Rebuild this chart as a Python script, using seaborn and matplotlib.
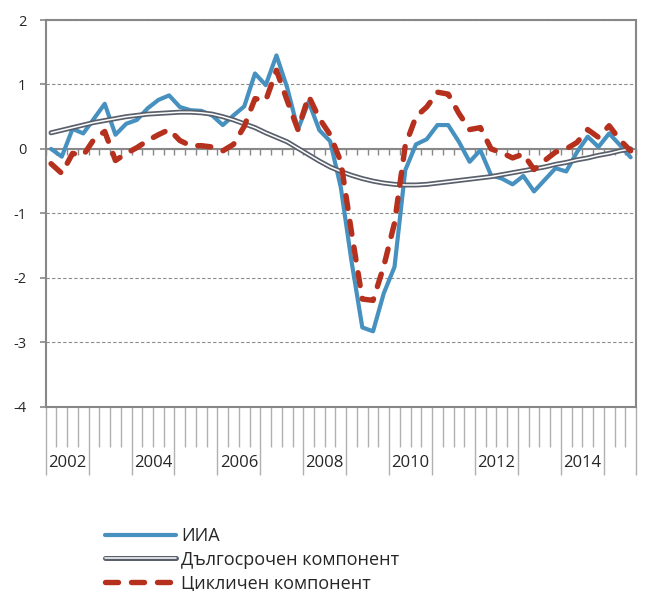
import numpy as np
import pandas as pd
import matplotlib
matplotlib.use('Agg')
import matplotlib.pyplot as plt
import matplotlib.patheffects as pe
import seaborn as sns

# тримесечни данни 2002Q1 - 2015Q3
years = list(range(2002, 2016))
quarters = [f'{y}Q{q}' for y in years for q in range(1, 5)][:55]

iia = [0.00, -0.12, 0.31, 0.24, 0.47, 0.70, 0.22, 0.39, 0.45, 0.63,
       0.76, 0.83, 0.65, 0.60, 0.59, 0.52, 0.37, 0.52, 0.66, 1.17,
       0.99, 1.45, 0.95, 0.30, 0.73, 0.29, 0.12, -0.60, -1.75, -2.77,
       -2.83, -2.24, -1.83, -0.33, 0.07, 0.15, 0.37, 0.37, 0.11, -0.20,
       -0.02, -0.41, -0.46, -0.55, -0.42, -0.66, -0.48, -0.30, -0.35, -0.05,
       0.19, 0.03, 0.24, 0.06, -0.13]

trend = [0.25, 0.29, 0.33, 0.37, 0.41, 0.44, 0.47, 0.50, 0.52, 0.54,
         0.55, 0.56, 0.57, 0.57, 0.56, 0.54, 0.50, 0.45, 0.39, 0.33,
         0.25, 0.18, 0.11, 0.01, -0.09, -0.19, -0.28, -0.35, -0.41, -0.46,
         -0.50, -0.53, -0.55, -0.56, -0.56, -0.55, -0.53, -0.51, -0.49, -0.47,
         -0.45, -0.43, -0.40, -0.37, -0.34, -0.31, -0.28, -0.24, -0.21, -0.17,
         -0.14, -0.10, -0.07, -0.03, 0.00]

cycle = [-0.23, -0.38, -0.07, -0.10, 0.15, 0.27, -0.18, -0.07, 0.02, 0.13,
         0.22, 0.30, 0.13, 0.05, 0.05, 0.03, -0.03, 0.07, 0.35, 0.78,
         0.75, 1.22, 0.75, 0.30, 0.82, 0.47, 0.22, -0.20, -1.30, -2.33,
         -2.35, -1.82, -1.15, 0.05, 0.50, 0.65, 0.88, 0.85, 0.55, 0.30,
         0.33, 0.00, -0.06, -0.14, -0.08, -0.32, -0.18, -0.05, 0.00, 0.10,
         0.30, 0.18, 0.36, 0.14, -0.03]

names = ['ИИА', 'Дългосрочен компонент', 'Цикличен компонент']

df = pd.DataFrame({'quarter': quarters, names[0]: iia, names[1]: trend, names[2]: cycle})
df['pos'] = np.arange(len(df))
n = len(df)

sns.set_style('white')
plt.rcParams['font.family'] = ['Open Sans', 'DejaVu Sans']
plt.rcParams['axes.unicode_minus'] = False

grey = '#878787'
fig = plt.figure(figsize=(6.45, 5.91), dpi=100)
ax = fig.add_axes([45.7 / 645, 1 - 406.7 / 591, (636 - 45.7) / 645, (406.7 - 20) / 591])

sns.lineplot(data=df, x='pos', y=names[0], ax=ax, color='#4691bf', lw=3.0,
             label=names[0], zorder=3)
sns.lineplot(data=df, x='pos', y=names[1], ax=ax, color='white', lw=1.1,
             label=names[1], zorder=4,
             path_effects=[pe.Stroke(linewidth=3.6, foreground='#59606c'), pe.Normal()])
sns.lineplot(data=df, x='pos', y=names[2], ax=ax, color='#b6301e', lw=3.9,
             linestyle=(0, (2.4, 2.4)), dash_capstyle='round',
             label=names[2], zorder=5)
if ax.get_legend():
    ax.get_legend().remove()

ax.set_xlim(-0.5, n - 0.5)
ax.set_ylim(-4, 2)
ax.set_xlabel('')
ax.set_ylabel('')

# рамка
for s in ax.spines.values():
    s.set_color(grey)
    s.set_linewidth(1.5)

# хоризонтални линии
ax.set_yticks(range(-4, 3))
ax.yaxis.grid(True, linestyle=(0, (3, 2)), color='#8c8c8c', linewidth=0.8)
ax.tick_params(axis='y', which='major', length=4, width=1.2, color=grey,
               labelsize=10.5, pad=10, left=True)

# категорийна ос отдолу
bounds = np.arange(-0.5, n, 1.0)
year_bounds = list(np.arange(-0.5, n, 4.0)) + [n - 0.5]
ax.set_xticks(year_bounds)
ax.set_xticks(bounds, minor=True)
ax.tick_params(axis='x', which='major', length=49, width=1, color='#b0b0b0',
               labelbottom=False, bottom=True)
ax.tick_params(axis='x', which='minor', length=29, width=1, color='#b0b0b0',
               bottom=True)

for k, yr in enumerate(years[:13:2]):
    ax.annotate(str(yr), xy=(8 * k + 1.5, 0), xycoords=('data', 'axes fraction'),
                xytext=(0, -40.5), textcoords='offset points',
                ha='center', va='center', fontsize=12)

# нулева линия с деления
sec = ax.secondary_xaxis(0, transform=ax.transData)
sec.set_alignment('bottom')
sec.set_xticks(bounds)
sec.tick_params(axis='x', length=4, width=1, color=grey, labelbottom=False)
sec.spines['bottom'].set_color(grey)
sec.spines['bottom'].set_linewidth(1.5)

handles, labels = ax.get_legend_handles_labels()
fig.legend(handles, labels, loc='upper left',
           bbox_to_anchor=(89 / 645, 1 - 511 / 591), frameon=False,
           fontsize=13, handlelength=3.9, handletextpad=0.3, labelspacing=0.3)

fig.savefig('out.png', dpi=100)
